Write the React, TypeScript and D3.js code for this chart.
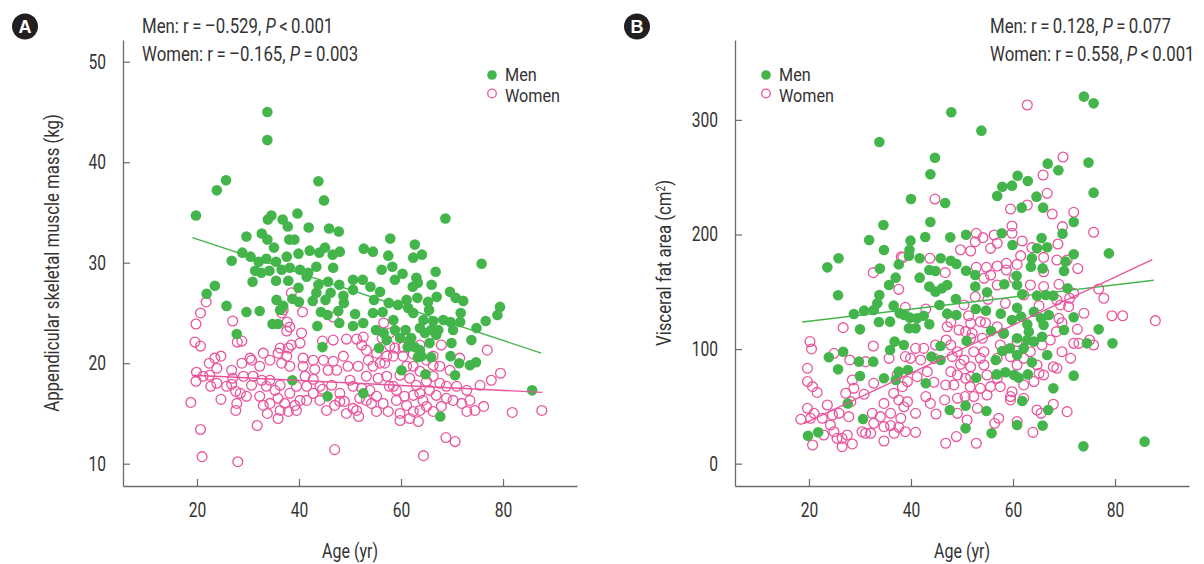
import React, { useEffect, useRef } from 'react';
import * as d3 from 'd3';

type Pt = [number, number];

// Age (yr) vs appendicular skeletal muscle mass (kg)
const menMuscle: Pt[] = [
  [33.8,45.0],[33.8,42.2],[25.7,38.2],[23.9,37.2],[43.8,38.1],[44.9,36.2],[19.8,34.7],[68.7,34.4],[34.6,34.7],[33.9,34.3],
  [39.7,34.9],[36.8,34.3],[37.8,33.6],[41.9,33.5],[45.9,33.4],[47.8,33.1],[29.7,32.6],[32.7,32.9],[33.8,32.3],[38.1,32.3],
  [39.1,32.3],[35.1,31.5],[28.9,31.0],[26.8,30.2],[30.5,30.6],[32.1,30.1],[33.6,30.4],[35.5,30.1],[37.6,30.6],[39.9,30.9],
  [42.1,31.2],[44.0,31.0],[45.1,31.5],[46.6,30.8],[48.0,31.1],[52.7,31.4],[54.5,31.1],[57.9,32.4],[57.5,30.7],[62.7,31.8],
  [62.4,30.5],[64.1,30.8],[75.8,29.9],[31.4,29.2],[32.6,29.0],[34.2,29.2],[36.6,29.3],[38.2,29.5],[40.2,29.3],[41.8,29.0],
  [43.4,29.6],[46.7,29.5],[30.9,28.1],[35.5,28.2],[37.9,28.2],[39.9,27.5],[41.5,28.6],[43.8,27.8],[45.7,28.1],[47.9,27.8],
  [50.6,28.3],[52.5,28.3],[54.0,27.6],[56.2,29.3],[58.3,29.6],[58.8,28.3],[60.3,28.9],[63.0,28.5],[63.3,28.0],[62.3,27.6],
  [66.0,27.8],[66.8,29.1],[50.6,27.3],[55.9,27.1],[23.5,27.7],[21.9,26.9],[25.8,25.7],[29.7,25.1],[32.3,25.2],[35.6,26.3],
  [36.9,25.7],[38.7,26.4],[40.0,26.1],[42.7,26.2],[43.4,27.0],[45.2,26.3],[46.2,27.0],[48.7,26.7],[48.8,26.0],[44.3,25.1],
  [45.6,24.8],[47.7,25.2],[51.0,24.9],[54.7,26.3],[54.5,25.0],[56.4,25.1],[57.6,26.0],[59.4,25.8],[61.1,26.3],[61.4,25.5],
  [63.2,26.5],[65.3,26.1],[65.5,25.3],[67.0,26.6],[69.6,27.1],[70.7,26.5],[72.2,26.2],[79.4,25.6],[78.9,24.8],[71.7,25.0],
  [34.8,23.9],[35.9,23.9],[27.8,22.9],[43.6,23.7],[47.9,24.0],[50.6,23.7],[52.6,24.0],[55.1,23.3],[56.6,23.0],[58.8,23.3],
  [59.8,22.5],[60.9,23.3],[62.0,22.5],[63.7,23.5],[64.7,23.0],[66.3,24.2],[67.3,23.3],[69.7,24.1],[70.2,23.3],[71.6,24.1],
  [74.8,23.5],[76.6,24.2],[55.7,21.5],[44.6,21.6],[62.7,21.6],[63.7,21.3],[65.6,22.0],[66.9,22.8],[69.9,22.0],[73.8,22.3],
  [64.0,20.7],[65.9,20.6],[69.7,20.7],[71.4,20.0],[73.5,19.8],[74.7,20.1],[60.1,19.3],[64.8,18.9],[70.6,18.8],[38.7,18.3],
  [45.6,16.7],[52.6,17.0],[67.7,14.7],[85.7,17.3],[62.4,25.0],[64.4,24.3],[65.9,23.3],[68.3,24.3],[58.5,24.3],[57.2,22.3],
  [61.3,21.6],[63.3,20.6],[61.7,22.3],[36.3,25.3],
];

const womenMuscle: Pt[] = [
  [18.8,16.1],[19.8,18.2],[19.9,19.1],[19.6,22.1],[20.7,21.7],[19.8,23.9],[20.7,25.0],[21.8,26.1],[21.2,18.7],[22.5,18.8],
  [22.7,17.7],[23.9,19.5],[23.5,20.5],[24.7,20.7],[24.7,16.4],[20.7,13.4],[27.0,24.2],[27.9,22.1],[28.8,22.2],[26.8,19.3],
  [27.0,18.5],[26.8,17.9],[27.6,17.2],[27.8,16.0],[27.6,15.3],[28.8,20.0],[29.1,18.7],[30.4,20.5],[30.7,17.8],[29.7,16.7],
  [32.3,19.7],[32.7,18.3],[32.3,16.7],[33.0,15.8],[31.8,13.8],[33.8,15.0],[34.3,16.0],[35.3,17.3],[35.9,21.0],[36.3,21.5],
  [36.6,20.0],[36.3,17.8],[35.9,16.5],[35.9,14.5],[36.3,15.3],[37.2,16.0],[37.9,15.2],[38.2,17.0],[37.6,20.7],[37.9,21.5],
  [38.2,19.7],[37.6,23.2],[37.7,24.1],[36.6,25.0],[38.5,27.0],[39.2,15.8],[39.5,15.3],[38.5,21.8],[40.2,22.0],[40.7,25.1],
  [40.8,19.7],[41.2,18.7],[41.5,17.7],[42.8,20.3],[43.1,19.4],[42.8,18.4],[44.1,16.3],[44.6,17.4],[44.6,22.2],[46.7,22.3],
  [46.7,24.6],[46.7,20.2],[47.4,19.3],[47.0,15.8],[47.0,11.4],[48.7,20.7],[49.3,22.4],[49.6,19.7],[50.0,18.3],[50.6,17.7],
  [50.6,15.5],[51.7,14.7],[51.3,22.4],[52.6,22.6],[52.3,21.8],[51.6,19.7],[53.6,20.3],[53.2,18.7],[53.9,17.3],[55.2,16.7],
  [55.5,18.5],[56.6,24.0],[57.8,21.7],[58.5,20.7],[58.8,21.5],[56.8,20.0],[57.2,18.7],[57.7,17.7],[59.1,17.3],[56.5,16.0],
  [57.5,15.2],[59.8,15.0],[59.8,14.3],[61.7,14.5],[63.4,14.2],[61.1,15.8],[60.7,16.7],[62.4,16.8],[63.0,17.8],[61.7,18.5],
  [59.8,18.8],[61.1,19.7],[62.4,19.7],[63.7,19.2],[65.0,18.2],[66.3,18.7],[67.6,18.0],[66.9,16.8],[65.0,15.7],[66.3,15.2],
  [67.9,15.7],[68.9,16.5],[68.9,17.7],[69.6,19.3],[67.9,21.8],[71.5,20.5],[72.9,17.3],[71.9,16.0],[72.9,15.2],[74.5,15.3],
  [76.2,15.7],[75.5,17.8],[77.7,18.3],[79.5,19.0],[76.9,21.3],[81.8,15.1],[87.6,15.3],[68.8,12.6],[70.6,12.2],[41.5,16.3],
  [45.4,15.3],[46.4,17.8],[48.0,17.0],[48.9,16.2],[51.9,16.5],[52.3,17.5],[54.5,19.7],[55.2,21.0],[53.2,21.3],[59.1,16.3],
  [63.7,17.0],[65.6,17.3],[64.3,16.3],[63.7,15.3],[62.4,15.2],[67.6,19.7],[66.3,19.8],[65.0,20.3],[62.4,20.9],[60.4,20.7],
  [60.4,21.6],[57.2,20.7],[55.9,20.0],[53.2,16.3],[54.2,16.0],[55.2,15.2],[51.3,15.3],[49.3,15.0],[48.0,16.2],[44.1,17.7],
  [42.8,17.0],[40.2,16.3],[39.5,17.7],[40.8,20.5],[44.8,20.3],[45.7,19.3],[33.6,17.7],[34.3,18.3],[31.0,18.7],[28.5,17.0],
  [25.8,17.7],[23.9,18.0],[22.4,20.0],[30.7,20.3],[33.0,21.0],[34.3,20.3],[40.5,23.0],[38.2,23.6],[36.9,25.3],[56.3,22.5],
  [57.8,23.0],[59.8,23.0],[61.7,22.0],[63.7,21.8],[66.3,20.7],[70.9,17.7],[70.2,16.3],[73.5,16.3],[58.5,17.7],[21.0,10.7],
  [28.0,10.2],[64.4,10.8],
];

// Age (yr) vs visceral fat area (cm2)
const menVisceral: Pt[] = [
  [73.9,320.3],[75.8,314.4],[47.9,306.6],[53.8,290.6],[33.8,280.7],[44.7,267.0],[43.8,252.5],[66.8,261.8],[68.9,256.0],[74.8,262.7],
  [60.9,251.3],[62.9,246.7],[57.9,241.7],[59.8,242.6],[56.9,233.6],[64.6,233.0],[75.8,236.5],[40.0,231.0],[46.7,227.5],[61.7,223.4],
  [65.9,223.4],[71.9,210.9],[34.6,208.3],[43.8,210.9],[31.8,195.2],[39.9,194.6],[42.8,197.8],[47.7,197.5],[50.8,199.8],[57.8,201.0],
  [65.6,196.9],[69.7,200.7],[34.7,186.4],[39.7,186.4],[25.8,179.2],[59.9,190.8],[64.7,187.9],[66.7,188.8],[78.8,183.5],[71.9,182.7],
  [23.6,171.3],[33.9,170.2],[37.6,173.9],[39.6,181.5],[41.7,179.2],[45.8,179.2],[47.8,177.1],[48.9,174.2],[63.7,179.2],[63.5,171.9],
  [65.8,170.4],[70.3,176.3],[70.0,168.1],[43.6,169.0],[44.8,168.1],[50.8,168.4],[52.6,164.6],[41.7,162.3],[37.0,162.3],[35.7,155.9],
  [25.7,146.9],[33.8,147.2],[33.4,139.9],[43.6,154.5],[44.8,150.1],[46.1,153.0],[47.1,155.9],[52.6,154.5],[58.3,156.5],[60.7,164.0],
  [60.8,155.9],[54.9,149.5],[61.8,147.8],[64.7,146.6],[66.4,147.2],[67.9,146.6],[70.7,153.0],[48.8,143.7],[28.8,130.6],[30.8,133.5],
  [32.7,134.1],[36.6,137.9],[37.8,131.2],[30.0,117.2],[33.7,123.6],[35.9,123.9],[38.7,129.7],[39.8,127.4],[41.2,126.8],[42.5,129.1],
  [43.6,121.6],[39.6,118.1],[40.9,118.1],[45.6,138.5],[47.1,130.9],[48.9,129.7],[52.7,135.0],[54.7,133.5],[57.6,130.9],[59.8,125.4],
  [60.8,136.1],[61.6,128.3],[62.8,121.6],[64.1,132.6],[65.5,126.8],[67.0,129.7],[66.0,121.0],[70.0,116.6],[71.9,127.7],[76.8,117.2],
  [55.7,115.8],[58.2,113.7],[60.8,109.4],[63.1,115.2],[62.8,107.9],[64.1,106.5],[65.7,110.8],[74.5,105.0],[79.5,105.0],[50.9,107.0],
  [45.8,102.7],[36.8,106.5],[38.6,103.5],[35.9,99.2],[23.9,92.8],[26.7,97.7],[29.8,89.0],[32.6,89.0],[25.7,82.3],[44.0,93.4],
  [45.8,90.5],[56.6,90.5],[57.9,98.3],[59.4,100.6],[60.8,94.8],[62.1,100.6],[63.7,88.4],[66.7,94.8],[30.0,76.5],[34.7,74.5],
  [37.6,80.3],[39.4,81.7],[37.0,73.0],[42.9,70.1],[52.8,75.0],[56.8,77.9],[58.5,79.7],[60.2,77.4],[61.1,75.0],[62.9,77.9],
  [71.9,76.8],[67.9,65.7],[27.6,52.6],[30.6,39.0],[47.6,46.8],[50.7,50.6],[54.8,46.0],[61.8,54.7],[66.9,46.8],[19.8,24.4],
  [21.8,27.3],[50.7,30.8],[55.8,26.5],[60.8,33.7],[65.8,33.2],[73.8,15.1],[85.8,19.2],
];

const womenVisceral: Pt[] = [
  [62.8,313.0],[69.8,267.6],[65.9,251.9],[66.7,235.9],[44.7,230.9],[62.8,225.7],[59.5,222.2],[67.7,217.9],[71.9,219.3],[69.7,206.8],
  [75.8,201.9],[59.8,207.4],[59.8,201.0],[52.8,201.0],[54.1,197.2],[52.6,193.7],[56.3,199.5],[56.9,192.3],[55.6,187.9],[49.7,186.7],
  [51.7,185.6],[61.8,194.3],[63.7,188.5],[68.8,191.7],[61.5,181.5],[66.0,180.0],[68.6,177.7],[70.6,177.7],[56.9,172.5],[58.7,174.8],
  [60.8,173.9],[58.7,169.0],[54.8,171.3],[52.8,171.3],[72.7,170.2],[43.7,179.2],[38.4,179.8],[32.6,166.7],[46.7,166.7],[55.6,164.6],
  [54.3,161.7],[66.0,167.5],[56.9,155.9],[66.0,154.5],[69.0,156.5],[71.1,144.3],[71.9,148.6],[76.8,152.4],[77.8,144.3],[37.6,152.1],
  [65.1,137.9],[69.3,138.5],[70.9,137.0],[50.4,138.5],[52.6,145.7],[55.1,143.4],[58.5,139.9],[38.9,136.4],[42.9,135.0],[73.9,131.2],
  [79.4,129.1],[81.5,129.1],[87.9,124.8],[26.7,118.7],[47.1,119.5],[47.8,123.3],[51.3,129.1],[51.7,122.5],[50.7,115.2],[52.0,113.7],
  [54.6,123.0],[56.9,119.5],[58.1,113.7],[69.6,123.0],[72.6,117.2],[68.5,115.2],[71.9,105.0],[72.9,105.0],[75.8,103.5],[75.0,107.9],
  [69.6,97.7],[68.6,83.2],[20.2,106.5],[20.5,100.1],[24.9,96.3],[32.6,102.7],[28.0,90.5],[31.1,89.0],[35.7,91.9],[38.9,93.4],
  [40.9,100.6],[42.5,100.6],[39.9,91.9],[41.9,90.5],[47.8,103.5],[49.1,97.7],[48.1,93.4],[50.4,90.5],[52.3,97.7],[54.3,97.7],
  [53.6,91.9],[51.7,84.6],[49.7,86.7],[47.8,80.3],[49.1,77.4],[50.7,74.5],[48.4,68.7],[51.6,67.2],[50.6,58.5],[52.3,58.5],
  [53.6,65.7],[55.6,67.2],[54.9,59.9],[57.5,67.2],[59.5,58.5],[59.8,62.8],[62.1,68.7],[64.1,71.6],[65.1,78.8],[64.7,86.1],
  [60.8,86.1],[59.5,93.4],[62.1,91.9],[65.7,103.5],[63.4,97.7],[19.7,83.2],[19.7,71.6],[20.7,67.2],[21.6,62.2],[23.6,51.2],
  [19.7,48.3],[21.0,43.9],[18.4,38.7],[20.3,39.6],[22.6,39.6],[24.2,33.7],[24.9,27.9],[26.5,22.1],[28.5,17.2],[26.5,14.8],
  [20.7,16.3],[22.9,25.0],[25.9,43.9],[27.8,41.0],[27.2,61.4],[28.8,65.7],[28.5,73.0],[30.8,60.5],[32.7,70.1],[34.7,52.6],
  [36.6,61.4],[37.6,55.6],[39.3,54.1],[38.6,49.7],[40.9,43.9],[36.0,43.9],[34.0,41.0],[32.4,43.9],[30.4,27.9],[32.1,26.5],
  [34.7,32.3],[36.0,33.2],[37.6,31.7],[38.9,27.9],[40.9,27.3],[34.7,19.8],[31.1,26.5],[36.7,26.5],[42.9,58.5],[44.5,71.0],
  [46.8,68.7],[43.8,52.6],[46.6,55.6],[49.1,57.0],[44.9,43.3],[49.1,43.9],[51.0,38.1],[53.0,48.3],[46.8,17.8],[48.9,23.6],
  [52.8,17.8],[56.4,35.2],[57.2,39.6],[60.8,36.7],[59.5,55.6],[63.9,27.3],[64.7,46.8],[65.5,43.9],[67.9,51.8],[70.6,45.4],
  [62.1,57.0],[54.9,77.4],[56.9,74.5],[51.7,75.9],[41.2,75.9],[39.3,71.6],[37.3,77.4],[38.3,67.2],[44.5,91.9],[43.2,80.3],
  [54.3,86.1],[56.9,91.9],[51.7,109.4],[54.0,109.4],[71.3,91.9],[67.9,84.6],[66.0,77.4],[28.2,54.1],[25.5,22.1],[27.5,25.0],
  [32.7,35.2],[38.0,39.6],[24.6,42.5],[49.4,116.6],[46.9,107.9],[44.8,103.5],[60.2,161.7],[62.1,147.2],[63.4,155.9],[69.0,126.8],
  [67.3,107.9],[60.8,106.5],[57.5,103.5],[68.6,142.8],[53.6,123.9],[38.1,180.6],
];

// fitted regression lines, [age, value] at both ends
const menMuscleFit: Pt[] = [[19.1, 32.5], [87.5, 21.0]];
const womenMuscleFit: Pt[] = [[19.3, 18.8], [87.7, 17.1]];
const menVisceralFit: Pt[] = [[18.7, 123.6], [87.6, 160.0]];
const womenVisceralFit: Pt[] = [[19.0, 35.0], [87.3, 178.0]];

const ageTicks = [20, 40, 60, 80];
const muscleTicks = [10, 20, 30, 40, 50];
const visceralTicks = [0, 100, 200, 300];

const GREEN = '#43b54b';
const PINK = '#e9559d';
const AXIS = '#6b6b6b';
const TEXT = '#333';
const FONT = 'Roboto, sans-serif';

type Seg = { t: string; i?: boolean };

// no condensed face is installed, so squeeze Roboto horizontally
const condense = (sel: any, sx: number, rot = 0) => {
  sel.each(function (this: SVGTextElement) {
    const el = d3.select(this);
    const x = +(el.attr('x') || 0);
    const y = +(el.attr('y') || 0);
    el.attr('x', null).attr('y', null)
      .attr('transform', `translate(${x},${y})${rot ? ` rotate(${rot})` : ''} scale(${sx},1)`);
  });
};

const App = () => {
  const svgRef = useRef<SVGSVGElement>(null);

  useEffect(() => {
    const svg = d3.select(svgRef.current);
    svg.selectAll('*').remove();

    const top = 40;
    const bottom = 486;

    const drawPanel = (cfg: any) => {
      const g = svg.append('g');
      const x = d3.scaleLinear().domain([5.5, 94.5]).range([cfg.left, cfg.left + 454]);
      const y = d3.scaleLinear().domain(cfg.yDomain).range([bottom, top]);

      // axes
      const xa = g.append('g')
        .attr('transform', `translate(0,${bottom})`)
        .call(d3.axisBottom(x).tickValues(ageTicks).tickSizeInner(-7).tickSizeOuter(0).tickPadding(17));
      const ya = g.append('g')
        .attr('transform', `translate(${cfg.left},0)`)
        .call(d3.axisLeft(y).tickValues(cfg.yTicks).tickSizeInner(-7).tickSizeOuter(0).tickPadding(17));
      [xa, ya].forEach(a => {
        a.select('.domain').attr('stroke', AXIS).attr('stroke-width', 1.3);
        a.selectAll('.tick line').attr('stroke', AXIS).attr('stroke-width', 1.2);
        const tt = a.selectAll('.tick text')
          .attr('fill', TEXT)
          .style('font-family', FONT)
          .style('font-size', '20px');
        condense(tt, 0.78);
      });

      // women (open circles) first, then men
      g.append('g').selectAll('circle')
        .data(cfg.women as Pt[])
        .join('circle')
        .attr('cx', d => x(d[0]))
        .attr('cy', d => y(d[1]))
        .attr('r', 4.9)
        .attr('fill', 'none')
        .attr('stroke', PINK)
        .attr('stroke-width', 1.3);

      g.append('g').selectAll('circle')
        .data(cfg.men as Pt[])
        .join('circle')
        .attr('cx', d => x(d[0]))
        .attr('cy', d => y(d[1]))
        .attr('r', 5.3)
        .attr('fill', GREEN);

      const line = d3.line<Pt>().x(d => x(d[0])).y(d => y(d[1]));
      g.append('path').attr('d', line(cfg.menFit)).attr('stroke', GREEN).attr('stroke-width', 1.4).attr('fill', 'none');
      g.append('path').attr('d', line(cfg.womenFit)).attr('stroke', PINK).attr('stroke-width', 1.4).attr('fill', 'none');

      // axis titles
      const xt = g.append('text')
        .attr('x', cfg.left + 227)
        .attr('y', 558)
        .attr('text-anchor', 'middle')
        .attr('fill', TEXT)
        .style('font-family', FONT)
        .style('font-size', '20px')
        .text('Age (yr)');
      condense(xt, 0.8);

      const yt = g.append('text')
        .attr('x', cfg.left - 64)
        .attr('y', (top + bottom) / 2)
        .attr('text-anchor', 'middle')
        .attr('fill', TEXT)
        .style('font-family', FONT)
        .style('font-size', '20px');
      yt.append('tspan').text(cfg.yTitle);
      if (cfg.sup) {
        yt.append('tspan').attr('baseline-shift', 'super').style('font-size', '12px').text(cfg.sup);
        yt.append('tspan').text(')');
      }
      condense(yt, 0.84, -90);

      // panel badge
      g.append('circle').attr('cx', cfg.left - 98).attr('cy', 26.5).attr('r', 13).attr('fill', '#231f20');
      g.append('text')
        .attr('x', cfg.left - 98)
        .attr('y', 33)
        .attr('text-anchor', 'middle')
        .attr('fill', '#fff')
        .style('font-family', "'Liberation Sans', Arial, sans-serif")
        .style('font-weight', 'bold')
        .style('font-size', '18px')
        .text(cfg.label);

      // correlation text
      (cfg.stats as Seg[][]).forEach((segs, i) => {
        const t = g.append('text')
          .attr('x', cfg.statsX)
          .attr('y', 33 + i * 28)
          .attr('fill', TEXT)
          .style('font-family', FONT)
          .style('font-size', '20px');
        segs.forEach(s => t.append('tspan').style('font-style', s.i ? 'italic' : 'normal').text(s.t));
        condense(t, 0.84);
      });

      // legend
      const lg = g.append('g').attr('transform', `translate(${cfg.legendX},0)`);
      lg.append('circle').attr('cx', 0).attr('cy', 75).attr('r', 4.8).attr('fill', GREEN);
      lg.append('circle').attr('cx', 0).attr('cy', 93.5).attr('r', 4.3).attr('fill', 'none').attr('stroke', PINK).attr('stroke-width', 1.3);
      [['Men', 81], ['Women', 101.5]].forEach(([s, yy]) => {
        const t = lg.append('text')
          .attr('x', 13)
          .attr('y', yy as number)
          .attr('fill', TEXT)
          .style('font-family', FONT)
          .style('font-size', '18px')
          .text(s as string);
        condense(t, 0.9);
      });
    };

    drawPanel({
      left: 123,
      yDomain: [7.78, 52.16],
      yTicks: muscleTicks,
      men: menMuscle,
      women: womenMuscle,
      menFit: menMuscleFit,
      womenFit: womenMuscleFit,
      label: 'A',
      yTitle: 'Appendicular skeletal muscle mass (kg)',
      statsX: 142,
      stats: [
        [{ t: 'Men: r\u2009=\u2009\u20130.529, ' }, { t: 'P', i: true }, { t: '\u2009<\u20090.001' }],
        [{ t: 'Women: r\u2009=\u2009\u20130.165, ' }, { t: 'P', i: true }, { t: '\u2009=\u20090.003' }],
      ],
      legendX: 492,
    });

    drawPanel({
      left: 735,
      yDomain: [-19.5, 369.7],
      yTicks: visceralTicks,
      men: menVisceral,
      women: womenVisceral,
      menFit: menVisceralFit,
      womenFit: womenVisceralFit,
      label: 'B',
      yTitle: 'Visceral fat area (cm',
      sup: '2',
      statsX: 990,
      stats: [
        [{ t: 'Men: r\u2009=\u20090.128, ' }, { t: 'P', i: true }, { t: '\u2009=\u20090.077' }],
        [{ t: 'Women: r\u2009=\u20090.558, ' }, { t: 'P', i: true }, { t: '\u2009<\u20090.001' }],
      ],
      legendX: 766,
    });
  }, []);

  return (
    <svg
      ref={svgRef}
      width={1204}
      height={564}
      style={{ position: 'absolute', left: 0, top: 0, background: '#fff' }}
    />
  );
};

export default App;
